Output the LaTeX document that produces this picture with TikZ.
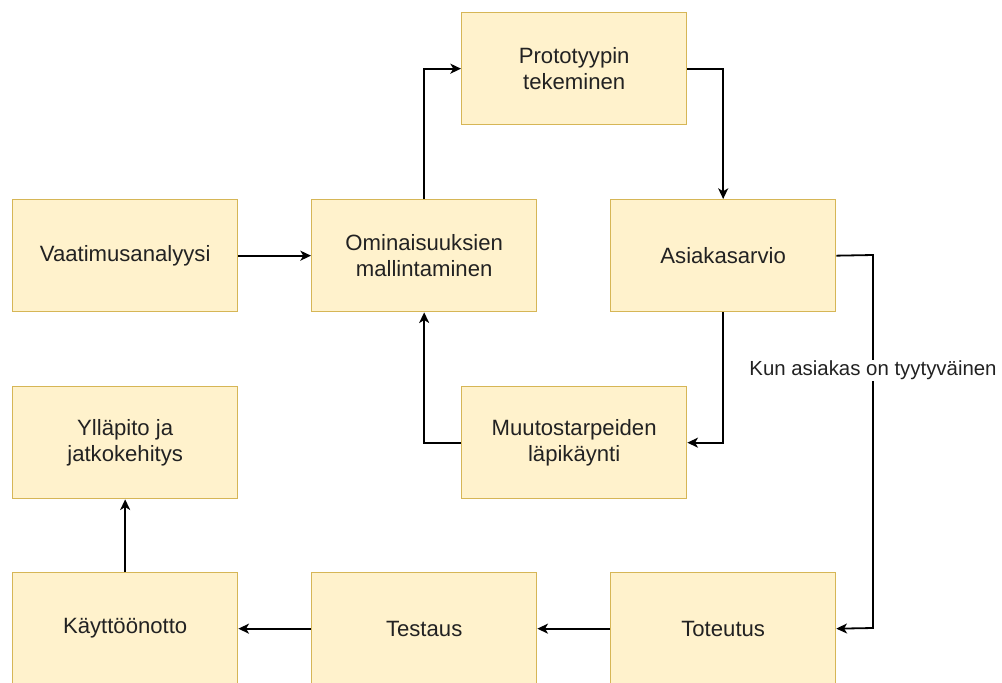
\documentclass[tikz,border=0pt]{standalone}
\usepackage{fontspec}
\setmainfont{Liberation Sans}
\usetikzlibrary{arrows.meta}
\definecolor{boxfill}{HTML}{FFF2CC}
\definecolor{boxline}{HTML}{D6B656}
\definecolor{txt}{HTML}{222222}
\begin{document}
\begin{tikzpicture}[x=0.75pt,y=-0.75pt,
  stepbox/.style={draw=boxline,fill=boxfill,line width=1pt,minimum width=168.75pt,minimum height=84pt,inner sep=0pt,align=center,font=\fontsize{16.6}{20}\selectfont,text=txt,anchor=north west},
  conn/.style={line width=1.35pt,line join=miter,-{Stealth[length=8pt,width=7.5pt,inset=2.2pt]}},
  lbl/.style={fill=white,font=\fontsize{15.3}{18}\selectfont,text=txt,inner sep=1pt}]
\clip (0,0) rectangle (1002,682);
\useasboundingbox (0,0) rectangle (1002,682);
\node[stepbox] (vaat) at (12,199) {Vaatimusanalyysi};
\node[stepbox] (omin) at (311,199) {Ominaisuuksien\\mallintaminen};
\node[stepbox] (prot) at (461,12) {Prototyypin\\tekeminen};
\node[stepbox] (asia) at (610,199) {Asiakasarvio};
\node[stepbox] (muut) at (461,386) {Muutostarpeiden\\läpikäynti};
\node[stepbox] (yllap) at (12,386) {Ylläpito ja\\jatkokehitys};
\node[stepbox] (kayt) at (12,572) {Käyttöönotto};
\node[stepbox] (test) at (311,572) {Testaus};
\node[stepbox] (tote) at (610,572) {Toteutus};
\draw[conn] (vaat) -- (omin);
\draw[conn] (omin.north) |- (prot.west);
\draw[conn] (prot.east) -| (asia.north);
\draw[conn] (asia.south) |- (muut.east);
\draw[conn] (muut.west) -| (omin.south);
\coordinate (c1) at (873,255);
\coordinate (c2) at (873,628);
\draw[conn] (asia.east) -- (c1) -- node[lbl,pos=0.31] {Kun asiakas on tyytyväinen} (c2) -- (tote.east);
\draw[conn] (tote) -- (test);
\draw[conn] (test) -- (kayt);
\draw[conn] (kayt) -- (yllap);
\end{tikzpicture}
\end{document}
